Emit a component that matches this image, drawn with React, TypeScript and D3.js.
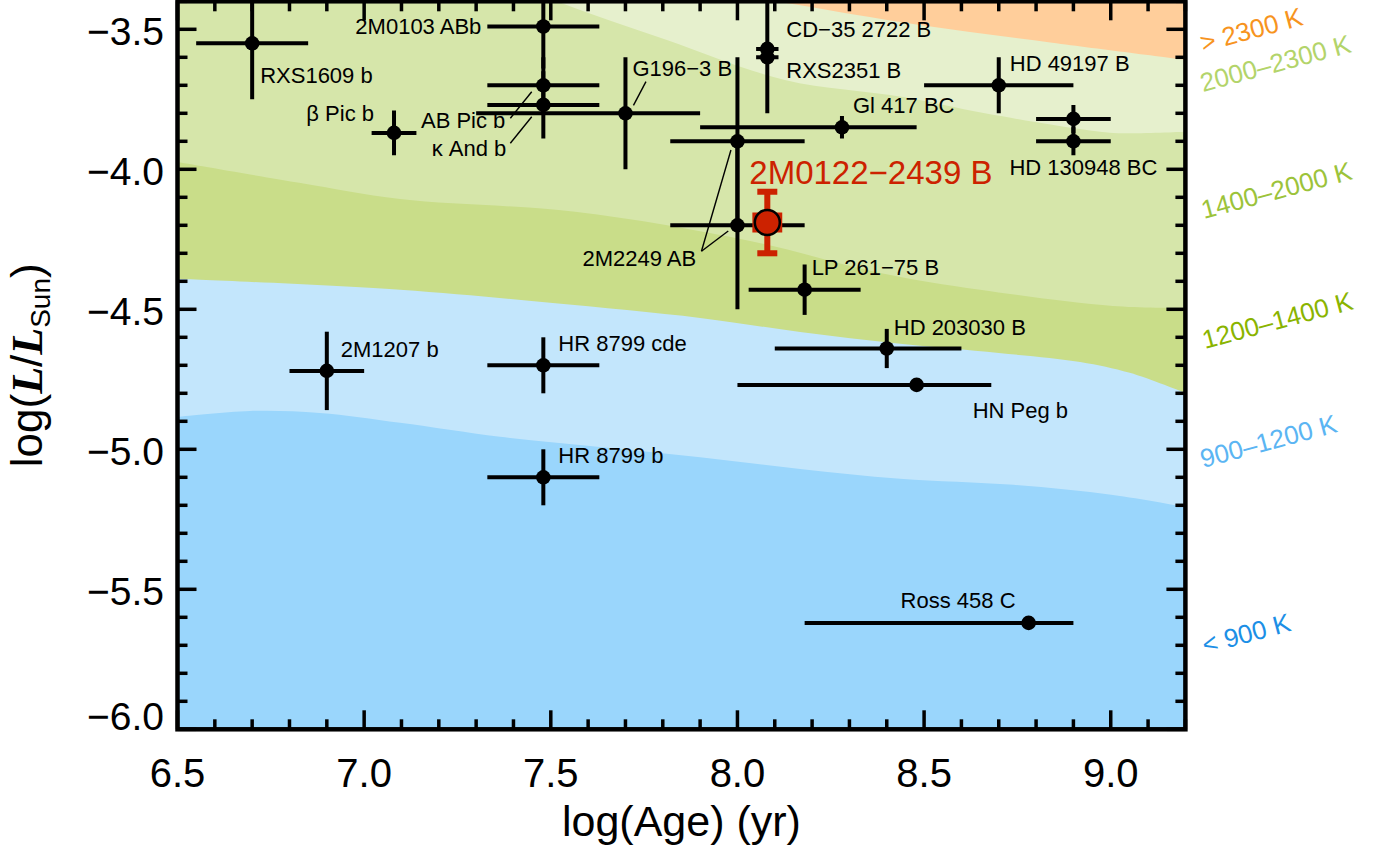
import React from 'react'
import * as d3 from 'd3'

const width = 1385, height = 849
const plot = { left: 177.5, right: 1185.4, top: 1.3, bottom: 729.3 }

// objects: log(age) with asymmetric errors, log(L/Lsun) with errors
const names = ['RXS1609 b', 'β Pic b', '2M0103 ABb', 'AB Pic b', 'κ And b', 'G196−3 B',
  'CD−35 2722 B', 'RXS2351 B', '', '2M2249 AB', 'Gl 417 BC', 'HD 49197 B', '', 'HD 130948 BC',
  'LP 261−75 B', 'HD 203030 B', 'HN Peg b', '2M1207 b', 'HR 8799 cde', 'HR 8799 b', 'Ross 458 C']
const ages = [6.70, 7.08, 7.48, 7.48, 7.48, 7.70, 8.08, 8.08, 8.00, 8.00, 8.28, 8.70, 8.90, 8.90,
  8.18, 8.40, 8.48, 6.90, 7.48, 7.48, 8.78]
const ageLo = [0.15, 0.06, 0.15, 0.15, 0.15, 0.40, 0.03, 0.03, 0.18, 0.18, 0.38, 0.20, 0.10, 0.10,
  0.15, 0.30, 0.48, 0.10, 0.15, 0.15, 0.60]
const ageHi = [0.15, 0.06, 0.15, 0.15, 0.15, 0.20, 0.03, 0.03, 0.18, 0.18, 0.20, 0.20, 0.10, 0.10,
  0.15, 0.20, 0.20, 0.10, 0.15, 0.15, 0.12]
const lums = [-3.55, -3.87, -3.49, -3.70, -3.77, -3.80, -3.57, -3.60, -3.90, -4.20, -3.85, -3.70,
  -3.82, -3.90, -4.43, -4.64, -4.77, -4.72, -4.70, -5.10, -5.62]
const lumErr = [0.20, 0.08, 0.15, 0.10, 0.12, 0.20, 0.02, 0.20, 0.30, 0.30, 0.04, 0.10, 0.05, 0.05,
  0.09, 0.07, 0.02, 0.14, 0.10, 0.10, 0.01]

// highlighted object
const targetName = '2M0122−2439 B'
const targetAge = 8.08, targetAgeErr = 0.04
const targetLum = -4.19, targetLumErr = 0.11

// isotherm boundaries [log age, log L]
const t2300 = [[6.5, -3.05], [7.5, -3.27], [8.127, -3.405], [8.484, -3.484], [8.843, -3.548], [9.2, -3.609]]
const t2000 = [[6.5, -2.95], [7.2, -3.22], [7.506, -3.395], [7.811, -3.538], [8.127, -3.681], [8.44, -3.741],
  [8.663, -3.80], [8.931, -3.859], [9.02, -3.871], [9.2, -3.866]]
const t1400 = [[6.5, -3.974], [6.83, -4.049], [7.096, -4.106], [7.565, -4.152], [8.034, -4.256],
  [8.382, -4.37], [8.65, -4.43], [9.006, -4.488], [9.2, -4.495]]
const t1200 = [[6.5, -4.391], [7.096, -4.43], [7.498, -4.477], [7.9, -4.531], [8.168, -4.581],
  [8.436, -4.623], [8.7, -4.656], [8.918, -4.688], [9.051, -4.727], [9.2, -4.799]]
const t900 = [[6.5, -4.884], [6.694, -4.863], [6.881, -4.87], [7.096, -4.905], [7.364, -4.955],
  [7.632, -4.992], [7.9, -5.028], [8.168, -5.07], [8.436, -5.105], [8.74, -5.127], [9.006, -5.163], [9.2, -5.206]]

const bandLabels = ['> 2300 K', '2000–2300 K', '1400–2000 K', '1200–1400 K', '900–1200 K', '< 900 K']

const xMajor = [6.5, 7.0, 7.5, 8.0, 8.5, 9.0]
const yMajor = [-3.5, -4.0, -4.5, -5.0, -5.5, -6.0]

// layout of labels relative to their point: dx, dy, anchor
const labelPos: [number, number, string][] = [
  [8, 40, 'start'], [-20, -12, 'end'], [-62, 7, 'end'], [-38, 43, 'end'], [-37, 51, 'end'], [7, -37, 'start'],
  [19, -12, 'start'], [19, 21, 'start'], [0, 0, 'start'], [-155, 41, 'start'], [11, -14, 'start'], [11, -14, 'start'],
  [0, 0, 'start'], [-64, 34, 'start'], [7, -15, 'start'], [7, -14, 'start'], [56, 33, 'start'], [14, -14, 'start'],
  [15, -14, 'start'], [15, -14, 'start'], [-128, -15, 'start']]
// leader lines: point index, x1, y1, x2, y2 offsets from the point
const leaders = [
  [3, -33, 33, -11.6, 6.4], [4, -33, 38.4, -11.6, 11.8], [5, 8, -8, 20.5, -31.6],
  [9, -36, 26, -6.5, -75.3], [9, -36, 26, -9.2, 5.7]]
const bandPos = [[1203, 52], [1203, 92], [1204, 219], [1205, 349], [1203, 468], [1205, 654]]
const bandText = ['#F7941E', '#B3D46A', '#9CC33A', '#8AB400', '#5BB5F3', '#1C8FE6']
const bandFill = ['#FFCE9B', '#E6F0CD', '#D6E6AA', '#C9DD89', '#C3E6FC', '#9AD6FC']

const font = '"Liberation Sans", Arial, Helvetica, sans-serif'

function App() {
  const x = d3.scaleLinear().domain([6.5, 9.2]).range([plot.left, plot.right])
  const y = d3.scaleLinear().domain([-6.0, -3.4]).range([plot.bottom, plot.top])

  const area = d3.area<number[]>()
    .x(d => x(d[0]))
    .y0(plot.bottom + 5)
    .y1(d => y(d[1]))
    .curve(d3.curveCatmullRom.alpha(0.5))

  const bounds = [t2300, t2000, t1400, t1200, t900]
  const xMinor = d3.range(65, 93).map(v => v / 10)
  const yMinor = d3.range(-60, -33).map(v => v / 10)
  const isMajor = (v: number, list: number[]) => list.some(m => Math.abs(m - v) < 1e-6)

  const tx = x(targetAge), ty = y(targetLum)

  return (
    <svg width={width} height={height} style={{ position: 'absolute', left: 0, top: 0, background: 'white' }}
      fontFamily={font}>
      <defs>
        <clipPath id="plotclip">
          <rect x={plot.left} y={plot.top} width={plot.right - plot.left} height={plot.bottom - plot.top} />
        </clipPath>
      </defs>

      <g clipPath="url(#plotclip)">
        <rect x={plot.left} y={plot.top} width={plot.right - plot.left} height={plot.bottom - plot.top} fill={bandFill[0]} />
        {bounds.map((b, i) => (
          <path key={i} d={area(b) || ''} fill={bandFill[i + 1]} />
        ))}

        {ages.map((a, i) => (
          <g key={i} stroke="black" strokeWidth={4}>
            <line x1={x(a - ageLo[i])} x2={x(a + ageHi[i])} y1={y(lums[i])} y2={y(lums[i])} />
            <line x1={x(a)} x2={x(a)} y1={y(lums[i] - lumErr[i])} y2={y(lums[i] + lumErr[i])} />
            <circle cx={x(a)} cy={y(lums[i])} r={7.3} fill="black" stroke="none" />
          </g>
        ))}

        {leaders.map(([i, x1, y1, x2, y2], k) => (
          <line key={k} x1={x(ages[i]) + x1} y1={y(lums[i]) + y1} x2={x(ages[i]) + x2} y2={y(lums[i]) + y2}
            stroke="black" strokeWidth={1.4} />
        ))}

        {names.map((n, i) => n && (
          <text key={i} x={x(ages[i]) + labelPos[i][0]} y={y(lums[i]) + labelPos[i][1]}
            textAnchor={labelPos[i][2] as any} fontSize={22} fill="black">{n}</text>
        ))}

        {/* highlighted object */}
        <rect x={x(targetAge - targetAgeErr)} y={ty - 10} width={x(targetAge + targetAgeErr) - x(targetAge - targetAgeErr)}
          height={20} fill="#CC2200" />
        <line x1={tx} x2={tx} y1={y(targetLum - targetLumErr)} y2={y(targetLum + targetLumErr)} stroke="#CC2200" strokeWidth={6} />
        <line x1={tx - 10} x2={tx + 10} y1={y(targetLum - targetLumErr)} y2={y(targetLum - targetLumErr)} stroke="#CC2200" strokeWidth={6} />
        <line x1={tx - 10} x2={tx + 10} y1={y(targetLum + targetLumErr)} y2={y(targetLum + targetLumErr)} stroke="#CC2200" strokeWidth={6} />
        <circle cx={tx} cy={ty} r={12.5} fill="#CC2200" stroke="black" strokeWidth={2.5} />
        <text x={tx - 18} y={ty - 39} fontSize={33} fill="#CC2200">{targetName}</text>
      </g>

      {/* ticks */}
      <g stroke="black" strokeWidth={3.5}>
        {xMinor.map((v, i) => {
          const len = isMajor(v, xMajor) ? 19 : 10
          return (
            <g key={i}>
              <line x1={x(v)} x2={x(v)} y1={plot.bottom} y2={plot.bottom - len} />
              <line x1={x(v)} x2={x(v)} y1={plot.top} y2={plot.top + len} />
            </g>
          )
        })}
        {yMinor.map((v, i) => {
          const len = isMajor(v, yMajor) ? 19 : 10
          return (
            <g key={i}>
              <line x1={plot.left} x2={plot.left + len} y1={y(v)} y2={y(v)} />
              <line x1={plot.right} x2={plot.right - len} y1={y(v)} y2={y(v)} />
            </g>
          )
        })}
      </g>
      <rect x={plot.left} y={plot.top} width={plot.right - plot.left} height={plot.bottom - plot.top}
        fill="none" stroke="black" strokeWidth={4.5} />

      {/* tick labels */}
      {xMajor.map((v, i) => (
        <text key={i} x={x(v)} y={787} textAnchor="middle" fontSize={40}>{v.toFixed(1)}</text>
      ))}
      {yMajor.map((v, i) => (
        <text key={i} x={164} y={v === -6.0 ? y(v) + 1 : y(v) + 16} textAnchor="end" fontSize={39}>
          {'−' + Math.abs(v).toFixed(1)}
        </text>
      ))}

      {/* axis titles */}
      <text x={(plot.left + plot.right) / 2} y={836} textAnchor="middle" fontSize={43}>log(Age) (yr)</text>
      <text transform={`translate(42, ${(plot.top + plot.bottom) / 2}) rotate(-90)`} textAnchor="middle" fontSize={44}>
        log(<tspan fontFamily='"Liberation Serif", "DejaVu Serif", serif' fontStyle="italic" fontWeight="bold">L</tspan>/
        <tspan fontFamily='"Liberation Serif", "DejaVu Serif", serif' fontStyle="italic" fontWeight="bold">L</tspan>
        <tspan fontSize={28} dy={8}>Sun</tspan><tspan dy={-8}>)</tspan>
      </text>

      {/* temperature bands */}
      {bandLabels.map((t, i) => (
        <text key={i} transform={`translate(${bandPos[i][0]}, ${bandPos[i][1]}) rotate(-15)`}
          fontSize={26} fill={bandText[i]}>{t}</text>
      ))}
    </svg>
  )
}

export default App
